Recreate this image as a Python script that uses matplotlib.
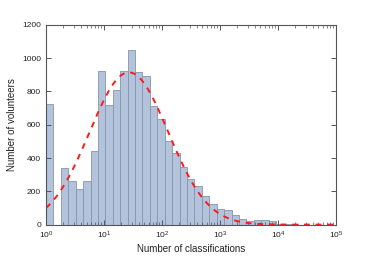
import numpy as np
import matplotlib
matplotlib.use("Agg")
import matplotlib.pyplot as plt
from matplotlib.ticker import LogLocator, FixedLocator

plt.rcParams['font.family'] = ['Liberation Sans', 'DejaVu Sans']
plt.rcParams['mathtext.fontset'] = 'custom'
plt.rcParams['mathtext.rm'] = 'Liberation Sans'
plt.rcParams['mathtext.it'] = 'Liberation Sans'

# histogram bins (log10 of classification counts), bin width in decades
bin_width_dex = 0.128
counts = [725, 0, 340, 265, 215, 265, 445, 925, 720, 808, 922, 1048, 918, 896,
          713, 635, 500, 430, 345, 272, 230, 170, 123, 91, 87, 58, 35, 22, 26,
          26, 20, 5, 3, 2]

# log-normal fit parameters (Gaussian in log10 space)
fit_amp = 915
fit_mu = 1.43
fit_sigma = 0.68

edges = 10 ** (np.arange(len(counts) + 1) * bin_width_dex)

fig = plt.figure(figsize=(3.74, 2.57), dpi=100)
ax = fig.add_axes([0.123, 0.126, 0.775, 0.777])

ax.bar(edges[:-1], counts, width=np.diff(edges), align='edge',
       color='#b3c3dc', edgecolor='#8795ab', linewidth=0.6)

xs = np.logspace(0, 5, 400)
ys = fit_amp * np.exp(-(np.log10(xs) - fit_mu) ** 2 / (2 * fit_sigma ** 2))
ax.plot(xs, ys, color='#ff1a1a', linestyle=(0, (3, 3)), linewidth=1.4)

ax.set_xscale('log')
ax.set_xlim(1, 1e5)
ax.set_ylim(0, 1200)
ax.xaxis.set_major_locator(FixedLocator([1, 10, 100, 1e3, 1e4, 1e5]))
ax.set_xticklabels([r'$10^{0}$', r'$10^{1}$', r'$10^{2}$', r'$10^{3}$',
                    r'$10^{4}$', r'$10^{5}$'])
ax.xaxis.set_minor_locator(LogLocator(base=10, subs=np.arange(2, 10), numticks=20))
ax.set_yticks([0, 200, 400, 600, 800, 1000, 1200])

for s in ax.spines.values():
    s.set_color('#555555')
    s.set_linewidth(0.8)
ax.tick_params(which='both', direction='in', top=True, right=True,
               colors='#555555', labelcolor='#222222', labelsize=6)
ax.tick_params(which='major', length=3.5, width=0.7)
ax.tick_params(which='minor', length=2, width=0.5)

ax.set_xlabel('Number of classifications', fontsize=7, color='#222222', labelpad=2)
ax.set_ylabel('Number of volunteers', fontsize=7, color='#222222', labelpad=4)

fig.savefig('out.png', dpi=100)
